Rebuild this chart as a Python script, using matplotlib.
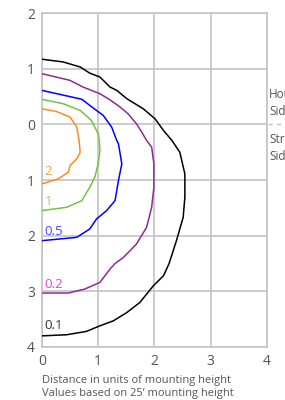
import matplotlib.pyplot as plt
from matplotlib.lines import Line2D

plt.rcParams["font.family"] = ["Open Sans", "DejaVu Sans"]

# Isofootcandle contours, distance in mounting heights (y > 0 house side, y < 0 street side)
black_x = [0.00, 0.38, 0.68, 0.85, 1.03, 1.21, 1.33, 1.51, 1.80, 2.01, 2.16, 2.31, 2.45, 2.54,
           2.54, 2.51, 2.39, 2.26, 2.16, 1.98, 1.74, 1.51, 1.27, 1.03, 0.79, 0.44, 0.00]
black_y = [1.17, 1.12, 1.03, 0.92, 0.85, 0.67, 0.61, 0.46, 0.28, 0.10, -0.11, -0.29, -0.50, -0.89,
           -1.31, -1.67, -2.09, -2.50, -2.72, -2.90, -3.20, -3.38, -3.53, -3.62, -3.72, -3.78, -3.80]

purple_x = [0.00, 0.50, 0.73, 1.03, 1.21, 1.39, 1.53, 1.68, 1.78, 1.86, 1.95, 1.99, 1.99, 1.95,
            1.86, 1.68, 1.45, 1.30, 1.21, 1.12, 1.03, 0.76, 0.47, 0.00]
purple_y = [0.91, 0.79, 0.67, 0.55, 0.44, 0.31, 0.19, 0.01, -0.15, -0.29, -0.41, -0.71, -1.13, -1.49,
            -1.85, -2.15, -2.39, -2.50, -2.60, -2.72, -2.84, -2.96, -3.03, -3.03]

blue_x = [0.00, 0.71, 0.85, 1.09, 1.24, 1.33, 1.36, 1.42, 1.36, 1.30, 1.15, 0.97, 0.85, 0.62, 0.00]
blue_y = [0.61, 0.45, 0.34, 0.16, -0.05, -0.29, -0.35, -0.71, -1.01, -1.37, -1.55, -1.70, -1.88, -2.03, -2.09]

green_x = [0.00, 0.38, 0.68, 0.88, 1.00, 1.02, 1.03, 1.00, 0.94, 0.85, 0.71, 0.44, 0.00]
green_y = [0.45, 0.37, 0.25, 0.07, -0.17, -0.29, -0.47, -0.71, -0.95, -1.13, -1.37, -1.49, -1.55]

orange_x = [0.00, 0.26, 0.50, 0.62, 0.66, 0.68, 0.62, 0.50, 0.47, 0.29, 0.00]
orange_y = [0.28, 0.23, 0.13, -0.05, -0.29, -0.50, -0.62, -0.74, -0.86, -0.98, -1.07]

contour_labels = ["0.1", "0.2", "0.5", "1", "2"]
label_y = [-3.62, -2.87, -1.92, -1.38, -0.85]

x_ticks = [0, 1, 2, 3, 4]
y_ticks = [2, 1, 0, -1, -2, -3, -4]
y_tick_labels = ["2", "1", "0", "1", "2", "3", "4"]

GRID = "#c4c4c4"
TEXT = "#555555"

fig = plt.figure(figsize=(2.85, 4.0), dpi=100)
ax = fig.add_axes([0.147, 0.1325, 0.790, 0.835])

curves = [
    (black_x, black_y, "#000000", "#333333"),
    (purple_x, purple_y, "#8e2a90", "#e040e0"),
    (blue_x, blue_y, "#0000ff", "#4444ff"),
    (green_x, green_y, "#72c441", "#8ed06a"),
    (orange_x, orange_y, "#ff8a1e", "#ffa04a"),
]
for (xs, ys, color, lcolor), lab, ly in zip(curves, contour_labels, label_y):
    ax.plot(xs, ys, color=color, lw=1.1, zorder=3)
    ax.text(0.05, ly, lab, color=lcolor, fontsize=9.5, ha="left", va="center", zorder=4)

ax.set_xlim(0, 4)
ax.set_ylim(-4, 2)
ax.set_xticks(x_ticks)
ax.set_yticks(y_ticks)
ax.set_yticklabels(y_tick_labels)
ax.tick_params(length=0, colors=TEXT, labelsize=10, pad=5)
ax.grid(True, color=GRID, lw=1.2)
ax.set_axisbelow(True)
for sp in ax.spines.values():
    sp.set_color(GRID)
    sp.set_linewidth(1.2)

ax.set_xlabel("Distance in units of mounting height\nValues based on 25\u2019 mounting height",
              fontsize=8, color=TEXT, loc="left", labelpad=4, linespacing=1.3)

# dashed divider and side labels to the right of the plot (cut off by the figure edge, as in the source)
y0 = 1 - 124 / 400
fig.add_artist(Line2D([268 / 285, 1.0], [y0, y0], color=GRID, lw=1.0, ls=(0, (3, 3))))
fig.text(269 / 285, 1 - 103 / 400, "House\nSide", fontsize=8.5, color=TEXT, va="center",
         ha="left", linespacing=1.45)
fig.text(269 / 285, 1 - 148 / 400, "Street\nSide", fontsize=8.5, color=TEXT, va="center",
         ha="left", linespacing=1.45)

fig.savefig("out.png", dpi=100)
